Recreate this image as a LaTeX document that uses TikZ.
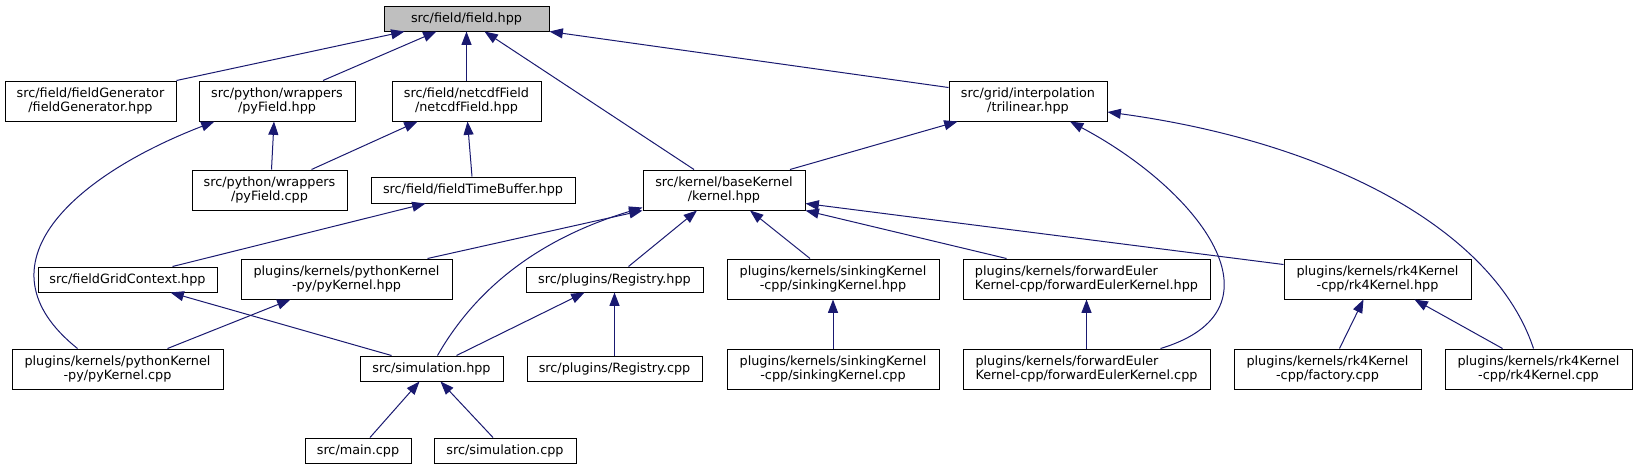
\documentclass[tikz,border=0pt]{standalone}
\usepackage{fontspec}
\setmainfont{DejaVu Sans}
\usepackage{tikz}
\usetikzlibrary{arrows.meta,calc}
\definecolor{depblue}{HTML}{191970}
\definecolor{rootgrey}{HTML}{BFBFBF}

\begin{document}
\begin{tikzpicture}[x=0.75pt,y=-0.75pt,
    incbox/.style={draw=black,line width=0.75pt,fill=white,inner sep=0pt,align=center,
        font=\fontsize{9.6}{10.7}\selectfont,minimum height=18.75pt},
    incbox2/.style={incbox,minimum height=30pt},
    dep/.style={depblue,line width=0.75pt,-{Triangle[length=10pt,width=7.5pt]}}]
          \useasboundingbox (0,0) rectangle (1637,469);
            \node[incbox,fill=rootgrey,minimum width=123.75pt] (field) at (466.5,18.5) {src/field/field.hpp};
            \node[incbox2,minimum width=128.25pt] (fieldgen) at (90.5,101) {src/field/fieldGenerator\\/fieldGenerator.hpp};
            \node[incbox2,minimum width=117pt] (pyfieldh) at (277,101) {src/python/wrappers\\/pyField.hpp};
            \node[incbox2,minimum width=111.75pt] (netcdf) at (466.5,101) {src/field/netcdfField\\/netcdfField.hpp};
            \node[incbox2,minimum width=118.5pt] (trilin) at (1028,101) {src/grid/interpolation\\/trilinear.hpp};
            \node[incbox2,minimum width=116.25pt] (pyfieldcpp) at (269.5,190) {src/python/wrappers\\/pyField.cpp};
            \node[incbox,minimum width=153pt,minimum height=19.5pt] (timebuf) at (473,190) {src/field/fieldTimeBuffer.hpp};
            \node[incbox2,minimum width=121.5pt] (kernel) at (724,190) {src/kernel/baseKernel\\/kernel.hpp};
            \node[incbox,minimum width=134.25pt] (gridctx) at (127.5,279.5) {src/fieldGridContext.hpp};
            \node[incbox2,minimum width=158.25pt] (pykernh) at (346.5,279) {plugins/kernels/pythonKernel\\-py/pyKernel.hpp};
            \node[incbox,minimum width=132.75pt] (registryh) at (614.5,279.5) {src/plugins/Registry.hpp};
            \node[incbox2,minimum width=159pt] (sinkh) at (833,279) {plugins/kernels/sinkingKernel\\-cpp/sinkingKernel.hpp};
            \node[incbox2,align=left,minimum width=185.25pt] (eulerh) at (1086.5,279) {plugins/kernels/forwardEuler\\Kernel-cpp/forwardEulerKernel.hpp};
            \node[incbox2,minimum width=140.25pt] (rkh) at (1377.5,279) {plugins/kernels/rk4Kernel\\-cpp/rk4Kernel.hpp};
            \node[incbox2,minimum width=158.25pt] (pykerncpp) at (117.5,369) {plugins/kernels/pythonKernel\\-py/pyKernel.cpp};
            \node[incbox,minimum width=107.25pt] (simh) at (431.5,368.5) {src/simulation.hpp};
            \node[incbox,minimum width=131.25pt] (registrycpp) at (614.5,368.5) {src/plugins/Registry.cpp};
            \node[incbox2,minimum width=159pt] (sinkcpp) at (833,369) {plugins/kernels/sinkingKernel\\-cpp/sinkingKernel.cpp};
            \node[incbox2,align=left,minimum width=185.25pt] (eulercpp) at (1086.5,369) {plugins/kernels/forwardEuler\\Kernel-cpp/forwardEulerKernel.cpp};
            \node[incbox2,minimum width=140.25pt] (factory) at (1327.5,369) {plugins/kernels/rk4Kernel\\-cpp/factory.cpp};
            \node[incbox2,minimum width=140.25pt] (rkcpp) at (1538.5,369) {plugins/kernels/rk4Kernel\\-cpp/rk4Kernel.cpp};
            \node[incbox,minimum width=79.5pt] (mainc) at (358,450.5) {src/main.cpp};
            \node[incbox,minimum width=106.5pt] (simcpp) at (505,450.5) {src/simulation.cpp};

            \draw[dep] (fieldgen.north east) -- ($(field.south west)+(21,0)$);
            \draw[dep] ($(pyfieldh.north)+(46,0)$) -- ($(field.south west)+(53,0)$);
            \draw[dep] (netcdf.north) -- (field.south);
            \draw[dep] ($(kernel.north)+(-30,0)$) -- ($(field.south)+(18,0)$);
            \draw[dep] ($(trilin.north west)+(0,7)$) -- (field.south east);
            \draw[dep] ($(pyfieldcpp.north)+(2,0)$) -- ($(pyfieldh.south)+(-3,0)$);
            \draw[dep] ($(pyfieldcpp.north)+(42,0)$) -- ($(netcdf.south west)+(26,0)$);
            \draw[dep] ($(timebuf.north)+(-1,0)$) -- ($(netcdf.south)+(1,0)$);
            \draw[dep] ($(pykerncpp.north)+(-40,0)$) .. controls +(-105,-84) and +(-140,54) .. ($(pyfieldh.south west)+(16,0)$);
            \draw[dep] ($(gridctx.north)+(45,0)$) -- ($(timebuf.south west)+(55,0)$);
            \draw[dep] ($(pykernh.north)+(81,0)$) -- (kernel.south west);
            \draw[dep] ($(simh.north)+(6,0)$) .. controls +(40,-70) and +(-100,30) .. ($(kernel.south west)+(0,-3)$);
            \draw[dep] ($(kernel.north)+(66,0)$) -- ($(trilin.south west)+(9,0)$);
            \draw[dep] ($(simh.north)+(-40,0)$) -- ($(gridctx.south)+(43,0)$);
            \draw[dep] ($(pykerncpp.north)+(50,0)$) -- ($(pykernh.south)+(-56,0)$);
            \draw[dep] ($(registryh.north)+(14,0)$) -- ($(kernel.south)+(-27,0)$);
            \draw[dep] ($(sinkh.north)+(-23,0)$) -- ($(kernel.south)+(26,0)$);
            \draw[dep] ($(eulerh.north)+(-80,0)$) -- (kernel.south east);
            \draw[dep] ($(rkh.north west)+(0,6)$) -- ($(kernel.south east)+(0,-7)$);
            \draw[dep] ($(simh.north)+(25,0)$) -- ($(registryh.south)+(-30,0)$);
            \draw[dep] (registrycpp.north) -- (registryh.south);
            \draw[dep] (sinkcpp.north) -- (sinkh.south);
            \draw[dep] (eulercpp.north) -- (eulerh.south);
            \draw[dep] ($(eulercpp.north east)+(-50,0)$) .. controls +(130,-39) and +(130,69) .. ($(trilin.south)+(42,0)$);
            \draw[dep] ($(rkcpp.north)+(-5,0)$) .. controls +(-40,-120) and +(220,30) .. ($(trilin.east)+(0,11)$);
            \draw[dep] ($(mainc.north)+(12,0)$) -- ($(simh.south)+(-12,0)$);
            \draw[dep] ($(simcpp.north)+(-12,0)$) -- ($(simh.south)+(9,0)$);
            \draw[dep] ($(factory.north)+(12,0)$) -- ($(rkh.south)+(-14,0)$);
            \draw[dep] ($(rkcpp.north)+(-36,0)$) -- ($(rkh.south)+(37,0)$);
      \end{tikzpicture}
\end{document}
